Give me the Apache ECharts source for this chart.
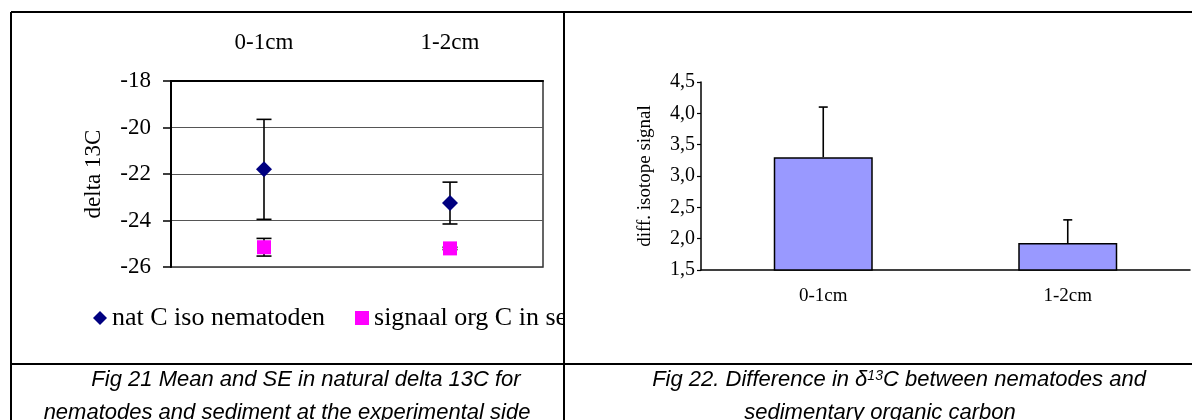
<!DOCTYPE html>
<html>
<head>
<meta charset="utf-8">
<script src="https://cdn.jsdelivr.net/npm/echarts@6/dist/echarts.min.js"></script>
<style>
  html, body { margin: 0; padding: 0; background: #fff; }
  #page { position: relative; width: 1192px; height: 420px; overflow: hidden; }
  #left { position: absolute; left: 0; top: 0; width: 563px; height: 420px; }
  #right { position: absolute; left: 563px; top: 0; width: 629px; height: 420px; }
</style>
</head>
<body>
<div id="page">
  <div id="left"></div>
  <div id="right"></div>
</div>
<script>
// depth layers
var depthCats = ["0-1cm", "1-2cm"];

// Fig 21: natural delta 13C, mean and SE
var nemaName = "nat C iso nematoden";
var nemaMean = [-21.8, -23.25];
var nemaSE = [2.15, 0.9];
var sedName = "signaal org C in sediment";
var sedMean = [-25.15, -25.2];
var sedSE = [0.38, 0.05];
var leftMin = -26, leftMax = -18, leftStep = 2;

// Fig 22: difference nematodes - sediment
var diffMean = [3.3, 1.93];
var diffSE = [0.8, 0.37];
var rightMin = 1.5, rightMax = 4.5, rightStep = 0.5;

var serif = "Liberation Serif";
var capFont = "'Liberation Sans Narrow', 'Arial Narrow', 'Liberation Sans'";

// error bar drawn through the axis scales
function errorBars(capW, bottomCap) {
  return function (params, api) {
    var i = api.value(0);
    var hi = api.coord([i, api.value(2)]);
    var lo = api.coord([i, api.value(1)]);
    var st = { stroke: "#000", lineWidth: 1.6 };
    var kids = [
      { type: "line", shape: { x1: hi[0], y1: hi[1], x2: lo[0], y2: lo[1] }, style: st },
      { type: "line", shape: { x1: hi[0] - capW / 2, y1: hi[1], x2: hi[0] + capW / 2, y2: hi[1] }, style: st }
    ];
    if (bottomCap) {
      kids.push({ type: "line", shape: { x1: lo[0] - capW / 2, y1: lo[1], x2: lo[0] + capW / 2, y2: lo[1] }, style: st });
    }
    return { type: "group", children: kids };
  };
}

function withErr(mean, se) {
  return mean.map(function (m, i) { return [i, m - se[i], m + se[i]]; });
}

var line = function (x1, y1, x2, y2) {
  return { type: "line", shape: { x1: x1, y1: y1, x2: x2, y2: y2 }, style: { stroke: "#000", lineWidth: 2 }, z: 100 };
};
var caption = function (txt, x, y) {
  return {
    type: "text", x: x, y: y, z: 100,
    style: { text: txt, fontFamily: capFont, fontStyle: "italic", fontSize: 22, fill: "#000", align: "center", verticalAlign: "middle" }
  };
};

// ---------- left chart ----------
var leftChart = echarts.init(document.getElementById("left"));
leftChart.setOption({
  animation: false,
  grid: { left: 171, right: 20, top: 81, bottom: 153, show: true, borderColor: "#333", borderWidth: 1.5 },
  xAxis: {
    type: "category",
    data: depthCats,
    position: "top",
    axisLine: { lineStyle: { color: "#000", width: 2 } },
    axisTick: { length: 8, lineStyle: { color: "#000", width: 1.5 } },
    axisLabel: { color: "#000", fontFamily: serif, fontSize: 23, margin: 27 }
  },
  yAxis: {
    type: "value",
    min: leftMin, max: leftMax, interval: leftStep,
    name: "delta 13C",
    nameLocation: "middle",
    nameGap: 66,
    nameTextStyle: { color: "#000", fontFamily: serif, fontSize: 23 },
    axisLine: { show: true, lineStyle: { color: "#000", width: 2 } },
    axisTick: { show: true, length: 8, lineStyle: { color: "#000", width: 1.5 } },
    axisLabel: { color: "#000", fontFamily: serif, fontSize: 23, margin: 20 },
    splitLine: { lineStyle: { color: "#555", width: 1.2 } }
  },
  legend: {
    left: 88, top: 300, width: 900,
    itemWidth: 14, itemHeight: 14, itemGap: 30,
    textStyle: { color: "#000", fontFamily: serif, fontSize: 26 },
    data: [{ name: nemaName, icon: "diamond" }, { name: sedName, icon: "rect" }]
  },
  series: [
    { type: "custom", z: 1, renderItem: errorBars(15, true), encode: { x: 0, y: [1, 2] }, data: withErr(nemaMean, nemaSE) },
    { type: "custom", z: 1, renderItem: errorBars(15, true), encode: { x: 0, y: [1, 2] }, data: withErr(sedMean, sedSE) },
    { name: nemaName, type: "scatter", z: 3, symbol: "diamond", symbolSize: 16, itemStyle: { color: "#000080", opacity: 1 }, data: nemaMean },
    { name: sedName, type: "scatter", z: 3, symbol: "rect", symbolSize: 14, itemStyle: { color: "#FF00FF", opacity: 1 }, data: sedMean }
  ],
  graphic: [
    line(11, 12, 563, 12),
    line(11, 12, 11, 420),
    line(11, 364, 563, 364),
    caption("Fig 21 Mean and SE in natural delta 13C for", 306, 380),
    caption("nematodes and sediment at the experimental side", 287, 413)
  ]
});

// ---------- right chart ----------
var rightChart = echarts.init(document.getElementById("right"));
rightChart.setOption({
  animation: false,
  grid: { left: 138, right: 2, top: 82, bottom: 150 },
  xAxis: {
    type: "category",
    data: depthCats,
    axisLine: { lineStyle: { color: "#000", width: 1.5 } },
    axisTick: { length: 5, lineStyle: { color: "#000", width: 1.2 } },
    axisLabel: { color: "#000", fontFamily: serif, fontSize: 19, margin: 17 }
  },
  yAxis: {
    type: "value",
    min: rightMin, max: rightMax, interval: rightStep,
    name: "diff. isotope signal",
    nameLocation: "middle",
    nameGap: 46,
    nameTextStyle: { color: "#000", fontFamily: serif, fontSize: 19 },
    axisLine: { show: true, lineStyle: { color: "#000", width: 1.5 } },
    axisTick: { show: true, length: 4, lineStyle: { color: "#000", width: 1.2 } },
    axisLabel: {
      color: "#000", fontFamily: serif, fontSize: 20, margin: 6,
      formatter: function (v) { return v.toFixed(1).replace(".", ","); }
    },
    splitLine: { show: false }
  },
  series: [
    {
      type: "bar",
      barWidth: 99,
      itemStyle: { color: "#9999FF", borderColor: "#000", borderWidth: 1.5 },
      data: diffMean
    },
    {
      type: "custom", z: 3,
      renderItem: errorBars(9, false),
      encode: { x: 0, y: [1, 2] },
      data: diffMean.map(function (m, i) { return [i, m, m + diffSE[i]]; })
    }
  ],
  graphic: [
    line(0, 12, 629, 12),
    line(1, 12, 1, 420),
    line(0, 364, 629, 364),
    {
      type: "text", x: 336, y: 380, z: 100,
      style: {
        text: "{a|Fig 22. Difference in δ}{s|13}{a|C between nematodes and}",
        align: "center", verticalAlign: "middle",
        rich: {
          a: { fontFamily: capFont, fontStyle: "italic", fontSize: 22, fill: "#000" },
          s: { fontFamily: capFont, fontStyle: "italic", fontSize: 14, fill: "#000", verticalAlign: "top", padding: [0, 0, 8, 0] }
        }
      }
    },
    caption("sedimentary organic carbon", 317, 413)
  ]
});
</script>
</body>
</html>
